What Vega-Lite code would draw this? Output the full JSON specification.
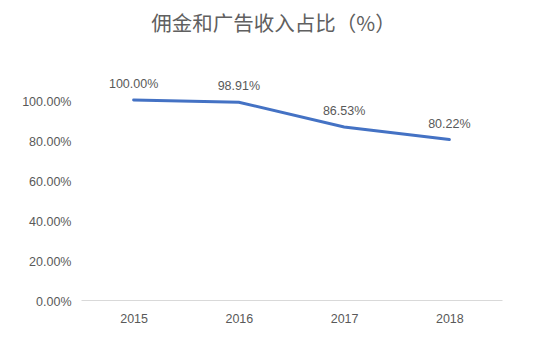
{
  "$schema": "https://vega.github.io/schema/vega-lite/v6.json",
  "width": 421,
  "height": 200,
  "autosize": {"type": "none"},
  "padding": {"left": 81, "top": 100, "right": 48, "bottom": 44},
  "background": "white",
  "title": {
    "text": "佣金和广告收入占比（%）",
    "fontSize": 20.5,
    "font": "Noto Sans CJK SC",
    "fontWeight": "normal",
    "color": "#606060",
    "anchor": "middle",
    "dx": -18,
    "offset": 43
  },
  "data": {
    "values": [
      {"year": "2015", "share": 1.0},
      {"year": "2016", "share": 0.9891},
      {"year": "2017", "share": 0.8653},
      {"year": "2018", "share": 0.8022}
    ]
  },
  "encoding": {
    "x": {
      "field": "year",
      "type": "ordinal",
      "scale": {"type": "point", "padding": 0.5},
      "axis": {
        "title": null,
        "labelAngle": 0,
        "ticks": false,
        "domainColor": "#D9D9D9",
        "domainWidth": 1,
        "labelPadding": 12,
        "labelFontSize": 12.5,
        "labelFont": "Liberation Sans",
        "labelColor": "#595959",
        "grid": false
      }
    },
    "y": {
      "field": "share",
      "type": "quantitative",
      "scale": {"domain": [0, 1], "nice": false},
      "axis": {
        "title": null,
        "values": [0, 0.2, 0.4, 0.6, 0.8, 1.0],
        "format": ".2%",
        "domain": false,
        "ticks": false,
        "grid": false,
        "labelPadding": 10,
        "labelOffset": 1.5,
        "labelFontSize": 12.5,
        "labelFont": "Liberation Sans",
        "labelColor": "#595959"
      }
    }
  },
  "layer": [
    {
      "mark": {"type": "line", "color": "#4472C4", "strokeWidth": 3, "strokeCap": "round"}
    },
    {
      "mark": {"type": "text", "dy": -16, "fontSize": 12.5, "font": "Liberation Sans", "color": "#595959"},
      "encoding": {
        "text": {"field": "share", "type": "quantitative", "format": ".2%"}
      }
    }
  ],
  "config": {"view": {"stroke": null}}
}
